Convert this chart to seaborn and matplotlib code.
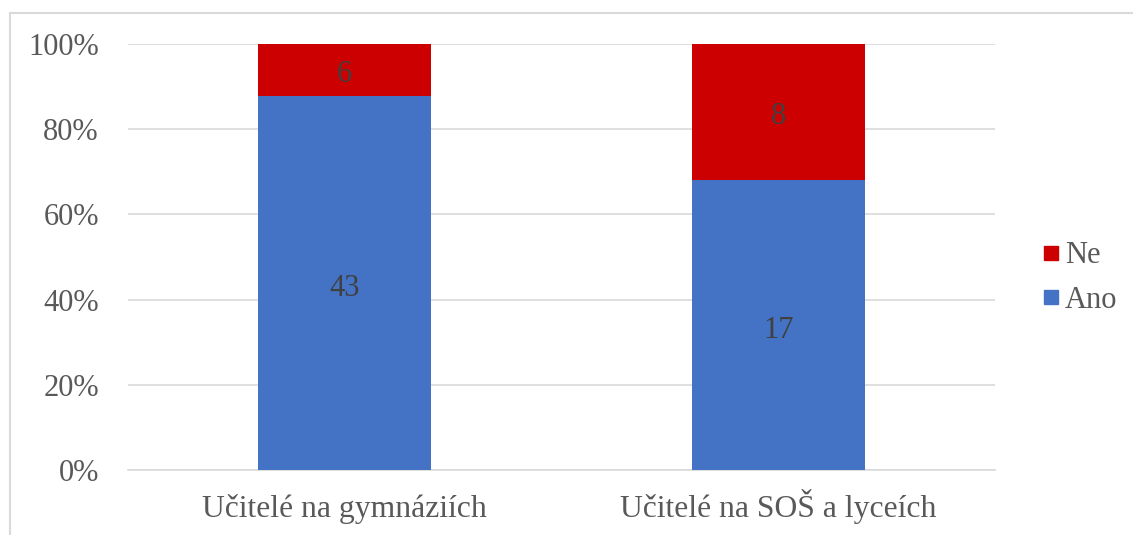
import matplotlib
matplotlib.use("Agg")
import matplotlib.pyplot as plt
import seaborn as sns
import pandas as pd
from matplotlib.patches import Rectangle
from matplotlib.lines import Line2D

categories = ["Učitelé na gymnáziích", "Učitelé na SOŠ a lyceích"]
ano = [43, 17]
ne = [6, 8]
yticks = [0, 20, 40, 60, 80, 100]

sns.set_theme(style="white")
plt.rcParams['font.family'] = ['Liberation Serif', 'DejaVu Serif']

BLUE = "#4472C4"
RED = "#CC0000"
TXT = "#595959"
FS = 22

totals = [a + n for a, n in zip(ano, ne)]
df = pd.DataFrame({
    "cat": categories,
    "ano_pct": [a / t * 100 for a, t in zip(ano, totals)],
    "total_pct": [100.0 for _ in totals],
})

W, H = 1133, 535
fig = plt.figure(figsize=(W / 100, H / 100), dpi=100)
ax = fig.add_axes([128 / W, (H - 470) / H, (995 - 128) / W, (470 - 44) / H])

sns.barplot(data=df, x="cat", y="total_pct", color=RED, width=0.4, ax=ax, saturation=1,
            zorder=3, linewidth=0)
sns.barplot(data=df, x="cat", y="ano_pct", color=BLUE, width=0.4, ax=ax, saturation=1,
            zorder=3, linewidth=0)

ax.set_xlim(-0.5, 1.5)
ax.set_ylim(0, 100)
ax.set_yticks(yticks)
ax.set_yticklabels([f"{v}%" for v in yticks])
ax.yaxis.grid(True, color="#D9D9D9", linewidth=1.2, zorder=0)
ax.set_axisbelow(True)
for s in ["top", "right", "left"]:
    ax.spines[s].set_visible(False)
ax.spines["bottom"].set_color("#D9D9D9")
ax.spines["bottom"].set_linewidth(1.2)
ax.tick_params(axis="y", length=0, labelsize=FS, colors=TXT, pad=21)
ax.tick_params(axis="x", length=0, labelsize=22.8, colors=TXT, pad=34)
for lab in ax.get_xticklabels():
    lab.set_verticalalignment("baseline")
ax.set_xlabel("")
ax.set_ylabel("")

for i, (a, n, t) in enumerate(zip(ano, ne, totals)):
    pa = a / t * 100
    ax.text(i, pa / 2 - 1.2, str(a), ha="center", va="center", fontsize=FS, color="#404040", zorder=5)
    ax.text(i, pa + (100 - pa) / 2 - 1.0, str(n), ha="center", va="center", fontsize=FS, color="#404040", zorder=5)

handles = [
    Line2D([], [], marker="s", linestyle="none", markersize=10, markerfacecolor=RED, markeredgecolor=RED),
    Line2D([], [], marker="s", linestyle="none", markersize=10, markerfacecolor=BLUE, markeredgecolor=BLUE),
]
leg = fig.legend(handles, ["Ne", "Ano"], loc="center left", bbox_to_anchor=(1027 / W, (H - 278) / H),
                 frameon=False, fontsize=FS, handlelength=0.55, handletextpad=0.2, labelspacing=0.5,
                 borderpad=0, labelcolor=TXT)

fig.patches.append(Rectangle((10 / W, -0.01), 1.02, (H - 13) / H + 0.01, transform=fig.transFigure,
                             fill=False, edgecolor="#D9D9D9", linewidth=1.5))

fig.savefig("out.png", dpi=100)
